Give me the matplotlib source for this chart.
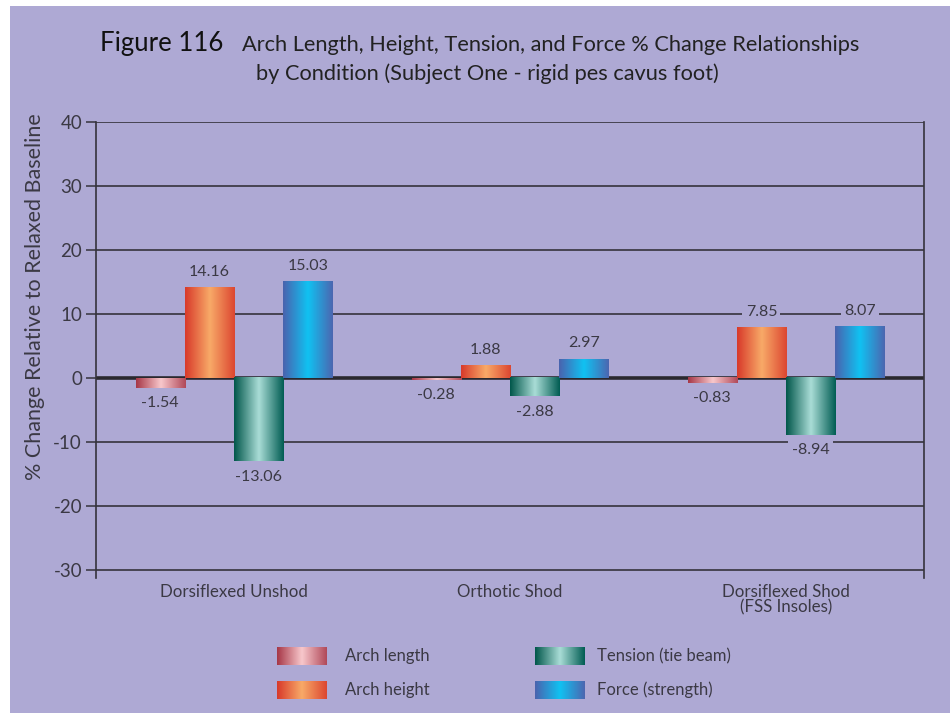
import numpy as np
import matplotlib
matplotlib.use("Agg")
import matplotlib.pyplot as plt
from matplotlib.colors import LinearSegmentedColormap
from matplotlib.patches import Rectangle

# ---- data -------------------------------------------------------------
conditions = ["Dorsiflexed Unshod", "Orthotic Shod", "Dorsiflexed Shod\n(FSS Insoles)"]
series_names = ["Arch length", "Arch height", "Tension (tie beam)", "Force (strength)"]
arch_length = [-1.54, -0.28, -0.83]
arch_height = [14.16, 1.88, 7.85]
tension = [-13.06, -2.88, -8.94]
force = [15.03, 2.97, 8.07]
y_ticks = [40, 30, 20, 10, 0, -10, -20, -30]

series_values = [arch_length, arch_height, tension, force]

# ---- styling ----------------------------------------------------------
BG = "#AEA9D4"
TXT = "#3b3944"
GRID = "#35333c"
gradients = [
    ["#A63646", "#F8C8CC", "#B04858"],   # arch length
    ["#D8392A", "#F8AA68", "#DC4630"],   # arch height
    ["#00564A", "#AADDD7", "#005C52"],   # tension
    ["#4A62AE", "#10C2F2", "#4C66B0"],   # force
]
cmaps = [LinearSegmentedColormap.from_list(f"g{i}", c) for i, c in enumerate(gradients)]
grad = np.linspace(0, 1, 256).reshape(1, -1)

plt.rcParams["font.family"] = ["Lato", "DejaVu Sans"]

W, H = 953, 713
fig = plt.figure(figsize=(W / 100, H / 100), dpi=100)
fig.patch.set_facecolor("white")

# lavender panel
overlay = fig.add_axes([0, 0, 1, 1], zorder=-5)
overlay.set_xlim(0, W)
overlay.set_ylim(H, 0)
overlay.axis("off")
overlay.add_patch(Rectangle((10, 6), 940, 707, facecolor=BG, edgecolor="none"))

# ---- main axes --------------------------------------------------------
left_px, right_px, top_px, bot_px = 96, 924, 122, 578
ax = fig.add_axes([left_px / W, 1 - bot_px / H, (right_px - left_px) / W, (bot_px - top_px) / H])
ax.set_facecolor("none")

n = len(series_names)
width = 0.178
x = np.arange(len(conditions))
ylo, yhi = -31.3, 40

for yv in y_ticks:
    if yv != 0:
        ax.axhline(yv, color=GRID, lw=1.2, zorder=1)

ax.axhline(0, color="#2a282e", lw=2.6, zorder=2)

for i, (vals, cmap) in enumerate(zip(series_values, cmaps)):
    offs = (i - (n - 1) / 2) * width
    bars = ax.bar(x + offs, vals, width, facecolor="none", edgecolor="none", zorder=3)
    for b, v in zip(bars, vals):
        x0, w = b.get_x(), b.get_width()
        y0, y1 = sorted([b.get_y(), b.get_y() + b.get_height()])
        ax.imshow(grad, extent=[x0, x0 + w, y0, y1], aspect="auto", cmap=cmap,
                  interpolation="bicubic", zorder=3)
        off = 6 if v >= 0 else -6
        ax.annotate(f"{v:.2f}", (x0 + w / 2, v), xytext=(0, off), textcoords="offset points",
                    ha="center", va="bottom" if v >= 0 else "top", fontsize=11.5, color=TXT,
                    zorder=4, bbox=dict(boxstyle="square,pad=0.2", fc=BG, ec="none"))

ax.set_xlim(-0.5, len(conditions) - 0.5)
ax.set_ylim(ylo, yhi)
ax.set_yticks(y_ticks)
ax.set_yticklabels([str(t) for t in y_ticks])
ax.set_xticks(x)
ax.set_xticklabels(conditions, linespacing=0.95)
ax.tick_params(axis="y", direction="out", length=7.5, width=1.1, color=GRID,
               labelsize=13.5, labelcolor=TXT, pad=2.5)
ax.tick_params(axis="x", length=0, labelsize=12.2, labelcolor=TXT, pad=4)
for s in ["top", "bottom"]:
    ax.spines[s].set_visible(False)
for s in ["left", "right"]:
    ax.spines[s].set_color(GRID)
    ax.spines[s].set_linewidth(1.2)

fig.text(35 / W, 1 - 297 / H, "% Change Relative to Relaxed Baseline", rotation=90,
         ha="center", va="center", fontsize=15.5, color=TXT)

# ---- title ------------------------------------------------------------
fig.text(100 / W, 1 - 51 / H, "Figure 116", fontsize=18.5, color="#111111",
         ha="left", va="baseline")
fig.text(242 / W, 1 - 51 / H,
         "Arch Length, Height, Tension, and Force % Change Relationships",
         fontsize=15.7, color="#222222", ha="left", va="baseline")
fig.text(487 / W, 1 - 80 / H, "by Condition (Subject One - rigid pes cavus foot)",
         fontsize=15.7, color="#222222", ha="center", va="baseline")

# ---- legend -----------------------------------------------------------
legend_pos = [(277, 656, 345), (277, 690, 345), (535, 656, 597), (535, 690, 597)]
for (lx, ly, tx), name, cmap in zip(legend_pos, series_names, cmaps):
    overlay.imshow(grad, extent=[lx, lx + 50, ly + 9, ly - 9], aspect="auto",
                   cmap=cmap, interpolation="bicubic", zorder=2)
    overlay.text(tx, ly, name, fontsize=12, color=TXT, ha="left", va="center")
overlay.set_xlim(0, W)
overlay.set_ylim(H, 0)

fig.savefig("out.png", dpi=100, facecolor="white")
